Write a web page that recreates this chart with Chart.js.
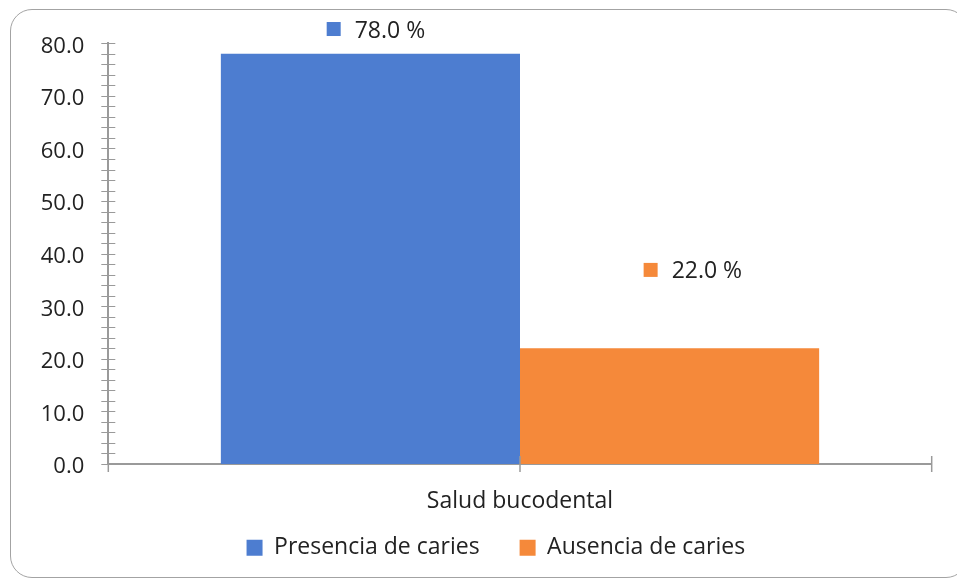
<!DOCTYPE html>
<html>
<head>
<meta charset="utf-8">
<script src="https://cdn.jsdelivr.net/npm/chart.js@4/dist/chart.umd.min.js"></script>
<style>
  html, body { margin: 0; padding: 0; background: #fff; overflow: hidden; }
  #wrap { position: relative; width: 957px; height: 580px; }
  #frame {
    position: absolute; left: 10px; top: 9px; width: 956px; height: 567px;
    border: 1.5px solid #a3a3a3; border-radius: 22px; pointer-events: none;
  }
</style>
</head>
<body>
<div id="wrap">
  <canvas id="chart" width="957" height="580"></canvas>
  <div id="frame"></div>
</div>
<script>
// Data
const categories = ["Salud bucodental"];
const seriesNames = ["Presencia de caries", "Ausencia de caries"];
const presencia = [78.0];
const ausencia = [22.0];
const yMin = 0;
const yMax = 80;
const yStep = 10;
const yMinorStep = 2;

const colors = ["#4d7dd0", "#f5893a"];
const axisColor = "#9a9a9a";
const textColor = "#222222";
const fontFamily = "'Open Sans', 'Noto Sans', sans-serif";

// Minor ticks on the value axis and tick marks on the category axis
const axisTicks = {
  id: "axisTicks",
  afterDraw(chart) {
    const { ctx, chartArea, scales: { x, y } } = chart;
    ctx.save();
    ctx.strokeStyle = axisColor;
    ctx.lineWidth = 1;
    for (let v = yMin; v <= yMax; v += yMinorStep) {
      const py = Math.round(y.getPixelForValue(v)) + 0.5;
      ctx.beginPath();
      ctx.moveTo(chartArea.left - 7, py);
      ctx.lineTo(chartArea.left + 7, py);
      ctx.stroke();
    }
    ctx.lineWidth = 1.5;
    const xs = [chartArea.left, x.getPixelForValue(0), chartArea.right];
    xs.forEach(px => {
      ctx.beginPath();
      ctx.moveTo(px, chartArea.bottom - 8);
      ctx.lineTo(px, chartArea.bottom + 8);
      ctx.stroke();
    });
    ctx.restore();
  }
};

// Value labels with a small colour key, above each bar
const barLabels = {
  id: "barLabels",
  afterDatasetsDraw(chart, args, opts) {
    const { ctx } = chart;
    ctx.save();
    ctx.font = "23px " + fontFamily;
    ctx.textBaseline = "middle";
    ctx.textAlign = "left";
    chart.data.datasets.forEach((ds, i) => {
      const meta = chart.getDatasetMeta(i);
      const off = opts.offsets[i];
      meta.data.forEach((bar, j) => {
        const text = ds.data[j].toFixed(1) + " %";
        const tw = ctx.measureText(text).width;
        const total = opts.box + opts.gap + tw;
        const left = bar.x + off.dx - total / 2;
        const cy = bar.y + off.dy;
        ctx.fillStyle = ds.backgroundColor;
        ctx.fillRect(left, cy - 2 - opts.box / 2, opts.box, opts.box);
        ctx.fillStyle = textColor;
        ctx.fillText(text, left + opts.box + opts.gap, cy);
      });
    });
    ctx.restore();
  }
};

// Nudge the legend box (sits a bit higher and right of the default spot)
const legendShift = {
  id: "legendShift",
  afterLayout(chart, args, opts) {
    const lg = chart.legend;
    if (!lg) return;
    lg.left += opts.dx; lg.right += opts.dx;
    lg.top += opts.dy; lg.bottom += opts.dy;
  }
};

Chart.defaults.font.family = fontFamily;
Chart.defaults.font.size = 22;
Chart.defaults.color = textColor;

new Chart(document.getElementById("chart"), {
  type: "bar",
  data: {
    labels: categories,
    datasets: [
      { label: seriesNames[0], data: presencia, backgroundColor: colors[0], borderWidth: 0 },
      { label: seriesNames[1], data: ausencia, backgroundColor: colors[1], borderWidth: 0 }
    ]
  },
  options: {
    responsive: false,
    animation: false,
    devicePixelRatio: 1,
    layout: { padding: { left: 0, right: 25.3, top: 43.3, bottom: 0 } },
    datasets: { bar: { categoryPercentage: 0.7266, barPercentage: 1 } },
    scales: {
      x: {
        z: 1,
        grid: { display: false, drawTicks: false, tickLength: 0 },
        border: { display: true, color: axisColor, width: 2 },
        ticks: { padding: 23.2, font: { size: 23 }, color: textColor },
        afterFit: scale => { scale.height = 56; }
      },
      y: {
        z: 1,
        min: yMin,
        max: yMax,
        grid: { display: false, drawTicks: false, tickLength: 0 },
        border: { display: true, color: axisColor, width: 2 },
        ticks: {
          stepSize: yStep,
          padding: 24,
          labelOffset: 3,
          font: { size: 22 },
          color: textColor,
          callback: v => Number(v).toFixed(1)
        },
        afterFit: scale => { scale.width = 108.3; }
      }
    },
    plugins: {
      legend: {
        position: "bottom",
        maxHeight: 60,
        labels: { boxWidth: 16, boxHeight: 16, padding: 40, font: { size: 23 }, color: textColor }
      },
      tooltip: { enabled: false },
      legendShift: { dx: 30, dy: -23.8 },
      barLabels: {
        box: 14,
        gap: 14,
        offsets: [{ dx: 5.5, dy: -22.8 }, { dx: 23.3, dy: -76.4 }]
      }
    }
  },
  plugins: [axisTicks, barLabels, legendShift]
});
</script>
</body>
</html>
